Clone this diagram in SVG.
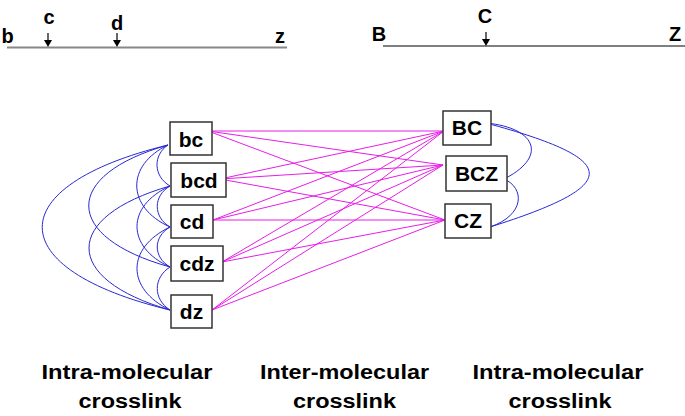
<svg xmlns="http://www.w3.org/2000/svg" width="685" height="416" viewBox="0 0 685 416">
<style>
text{font-family:"Liberation Sans",Arial,sans-serif;font-weight:bold;fill:#000}
.lbl{font-size:21px;text-anchor:middle}
.top{font-size:20px;text-anchor:middle}
.cap{font-size:20px;text-anchor:middle}
.box{fill:#fff;stroke:#333;stroke-width:1.5}
.pink{stroke:#e61ee6;stroke-width:1;fill:none}
.blue{stroke:#2828d2;stroke-width:1;fill:none}
</style>
<rect width="685" height="416" fill="#fff"/>
<g id="top-left">
<line x1="7" y1="47.5" x2="287" y2="47.5" stroke="#888" stroke-width="2"/>
<text class="top" x="7.5" y="43">b</text>
<text class="top" x="49" y="24">c</text>
<text class="top" x="117" y="30">d</text>
<text class="top" x="280" y="43">z</text>
<line x1="48" y1="33" x2="48" y2="41" stroke="#000" stroke-width="1.2"/>
<polygon points="44,40 52,40 48,47" fill="#000"/>
<line x1="117" y1="33" x2="117" y2="41" stroke="#000" stroke-width="1.2"/>
<polygon points="113,40 121,40 117,47" fill="#000"/>
</g>
<g id="top-right">
<line x1="383" y1="46" x2="685" y2="46" stroke="#000" stroke-width="1"/>
<text class="top" x="379" y="41">B</text>
<text class="top" x="485" y="23">C</text>
<text class="top" x="675" y="41">Z</text>
<line x1="486" y1="32" x2="486" y2="40" stroke="#000" stroke-width="1.2"/>
<polygon points="482,39 490,39 486,46" fill="#000"/>
</g>
<g id="connectors">
<path class="pink" d="M208,131L444,131M208,131L443,165M208,131L445,220M220,179L444,131M220,179L443,165M220,179L445,220M213,220L444,131M213,220L443,165M213,220L445,220M222,262L444,131M222,262L443,165M222,262L445,220M212,310L444,131M212,310L443,165M212,310L445,220"/>
<path class="blue" d="M168,145C153,155 153,176 170,186M170,186C153,196 153,217 170,227M170,227C153,237 153,257 170,267M170,267C153,278 153,299 170,310"/>
<path class="blue" d="M168,145C126,165 126,207 170,227M170,186C126,206 126,247 170,267M170,227C126,248 126,289 170,310"/>
<path class="blue" d="M168,145C62,175 62,237 170,267M170,186C62,217 62,279 170,310"/>
<path class="blue" d="M168,145C0,186 0,269 170,310"/>
<path class="blue" d="M486,123C538,128 548,158 502,180M504,179C525,188 525,215 490,227M486,123C623,160 623,185 490,227"/>
</g>
<g id="node-bc"><rect class="box" x="170" y="122" width="42" height="33"/><text class="lbl" x="191" y="147">bc</text></g>
<g id="node-bcd"><rect class="box" x="171" y="163" width="55" height="34"/><text class="lbl" x="199" y="188">bcd</text></g>
<g id="node-cd"><rect class="box" x="171" y="205" width="42" height="33"/><text class="lbl" x="192" y="229">cd</text></g>
<g id="node-cdz"><rect class="box" x="171" y="246" width="52" height="35"/><text class="lbl" x="197" y="271">cdz</text></g>
<g id="node-dz"><rect class="box" x="171" y="295" width="41" height="33"/><text class="lbl" x="191.5" y="319">dz</text></g>
<g id="node-BC"><rect class="box" x="443" y="111" width="48" height="34"/><text class="lbl" x="467" y="135">BC</text></g>
<g id="node-BCZ"><rect class="box" x="446" y="156" width="61" height="35"/><text class="lbl" x="476.5" y="181">BCZ</text></g>
<g id="node-CZ"><rect class="box" x="445" y="204" width="46" height="34"/><text class="lbl" x="468" y="228">CZ</text></g>
<g id="captions">
<text class="cap" x="127" y="379" textLength="171" lengthAdjust="spacingAndGlyphs">Intra-molecular</text>
<text class="cap" x="130" y="408" textLength="103" lengthAdjust="spacingAndGlyphs">crosslink</text>
<text class="cap" x="344.5" y="379" textLength="169" lengthAdjust="spacingAndGlyphs">Inter-molecular</text>
<text class="cap" x="344.5" y="408" textLength="103" lengthAdjust="spacingAndGlyphs">crosslink</text>
<text class="cap" x="558" y="379" textLength="171" lengthAdjust="spacingAndGlyphs">Intra-molecular</text>
<text class="cap" x="560" y="408" textLength="103" lengthAdjust="spacingAndGlyphs">crosslink</text>
</g>
</svg>
